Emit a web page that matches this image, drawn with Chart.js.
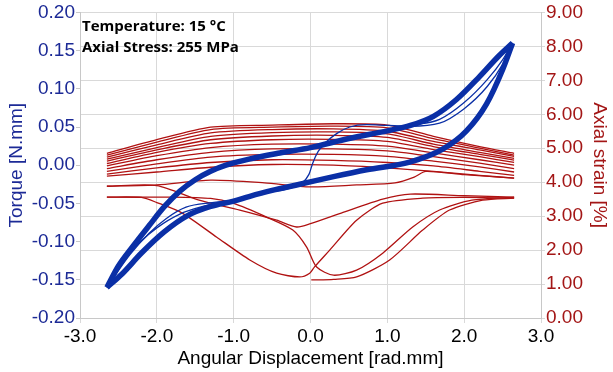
<!DOCTYPE html>
<html>
<head>
<meta charset="utf-8">
<script src="https://cdn.jsdelivr.net/npm/chart.js@4"></script>
<style>
  html, body { margin: 0; padding: 0; background: #fff; }
  #wrap { width: 613px; height: 372px; }
</style>
</head>
<body>
<div id="wrap"><canvas id="torqueChart" width="613" height="372"></canvas></div>
<script>
// axis ranges
const xRange = [-3.0, 3.0]
const torqueRange = [-0.20, 0.20]
const strainRange = [0, 9]

// torque loop, stable cycles (thick band)
const upperX = [-2.65, -2.5, -2.31, -2.1, -1.9, -1.7, -1.5, -1.3, -1.1, -0.8, -0.4, 0.0, 0.5, 1.0, 1.3, 1.6, 1.9, 2.2, 2.45, 2.63]
const upperT = [-0.160, -0.132, -0.106, -0.079, -0.054, -0.034, -0.019, -0.008, 0.000, 0.008, 0.016, 0.023, 0.035, 0.045, 0.052, 0.064, 0.086, 0.116, 0.143, 0.160]
const lowerX = [2.63, 2.5, 2.29, 2.03, 1.72, 1.29, 0.73, 0.3, -0.14, -0.5, -0.8, -1.0, -1.3, -1.6, -1.9, -2.2, -2.45, -2.65]
const lowerT = [0.160, 0.125, 0.080, 0.045, 0.021, 0.004, -0.006, -0.015, -0.025, -0.033, -0.041, -0.047, -0.054, -0.066, -0.087, -0.115, -0.142, -0.160]

// first cycles (thin lines)
const initX = [-0.6, -0.3, -0.12, -0.02, 0.03, 0.1, 0.2, 0.35, 0.51, 0.73, 1.0, 1.3, 1.68, 2.0, 2.3, 2.5, 2.63]
const initT = [-0.036, -0.031, -0.024, -0.012, 0.003, 0.018, 0.030, 0.042, 0.050, 0.053, 0.052, 0.051, 0.055, 0.074, 0.103, 0.132, 0.160]
const posThinX = [1.3, 1.68, 2.0, 2.3, 2.5, 2.63]
const posThinT = [0.052, 0.060, 0.082, 0.112, 0.138, 0.160]
const neg1X = [-0.14, -0.5, -0.8, -1.0, -1.4, -1.7, -2.0, -2.2, -2.45, -2.65]
const neg1T = [-0.025, -0.033, -0.040, -0.046, -0.054, -0.064, -0.082, -0.099, -0.127, -0.160]
const neg2X = [-1.1, -1.28, -1.62, -1.88, -2.1, -2.35, -2.65]
const neg2T = [-0.047, -0.049, -0.055, -0.070, -0.089, -0.117, -0.160]

// axial strain, upper band of cycles
const bandX = [-2.65, -2.0, -1.3, -0.5, 0.3, 1.0, 1.6, 2.2, 2.65]
const bandStrain = [
    [4.85, 5.25, 5.62, 5.68, 5.72, 5.68, 5.35, 5.05, 4.85],
    [4.80, 5.18, 5.55, 5.62, 5.65, 5.60, 5.28, 5.00, 4.80],
    [4.74, 5.10, 5.45, 5.55, 5.57, 5.50, 5.20, 4.95, 4.76],
    [4.68, 5.02, 5.35, 5.46, 5.48, 5.42, 5.12, 4.88, 4.70],
    [4.62, 4.95, 5.25, 5.36, 5.38, 5.32, 5.05, 4.82, 4.65],
    [4.55, 4.88, 5.14, 5.25, 5.26, 5.20, 4.96, 4.75, 4.58],
    [4.48, 4.78, 5.02, 5.12, 5.12, 5.06, 4.86, 4.66, 4.50],
    [4.40, 4.66, 4.88, 4.98, 4.98, 4.92, 4.75, 4.56, 4.40],
    [4.32, 4.54, 4.74, 4.82, 4.82, 4.76, 4.62, 4.45, 4.30],
    [4.24, 4.42, 4.58, 4.66, 4.64, 4.58, 4.48, 4.32, 4.20],
    [4.18, 4.30, 4.44, 4.52, 4.50, 4.42, 4.32, 4.20, 4.12]
]

// axial strain, first cycles (lower curves)
const curveAX = [-2.65, -2.0, -1.45, -0.92, -0.44, -0.18, 0.0, 0.4, 0.94, 1.3, 2.0, 2.65]
const curveAS = [3.88, 3.90, 3.47, 3.18, 2.88, 2.68, 2.78, 3.09, 3.50, 3.65, 3.60, 3.56]
const curveBX = [-2.65, -2.2, -2.0, -1.67, -1.22, -0.79, -0.44, -0.14, -0.01, 0.05, 0.25, 0.6, 0.94, 1.46, 2.0, 2.65]
const curveBS = [3.56, 3.55, 3.40, 3.09, 2.38, 1.71, 1.32, 1.21, 1.32, 1.50, 2.00, 2.88, 3.38, 3.53, 3.55, 3.53]
const curveCX = [-2.65, -1.8, -1.3, -1.01, -0.57, -0.23, -0.05, 0.08, 0.3, 0.6, 0.94, 1.33, 1.68, 2.1, 2.65]
const curveCS = [3.56, 3.56, 3.52, 3.38, 2.97, 2.59, 2.09, 1.50, 1.26, 1.41, 1.91, 2.68, 3.18, 3.47, 3.56]
const curveEX = [0.01, 0.3, 0.6, 1.03, 1.46, 1.81, 2.24, 2.65]
const curveES = [1.12, 1.14, 1.21, 1.71, 2.59, 3.18, 3.47, 3.53]
const curveFX = [-2.65, -2.0, -1.3, -0.6, 0.0, 0.6, 1.1, 1.35, 1.5, 2.0, 2.65]
const curveFS = [3.88, 3.92, 4.06, 3.98, 3.86, 3.92, 3.98, 4.15, 4.32, 4.22, 4.12]

const blue = '#0a2fa6'
const red = '#b01212'
const font = "'Liberation Sans', Arial, sans-serif"

const pts = (xs, ys) => xs.map((x, i) => ({ x: x, y: ys[i] }))

function torqueLine(xs, ys, width) {
    return {
        data: pts(xs, ys), yAxisID: 'y', showLine: true, pointRadius: 0,
        borderColor: blue, borderWidth: width, cubicInterpolationMode: 'monotone', fill: false
    }
}
function strainLine(xs, ys) {
    return {
        data: pts(xs, ys), yAxisID: 'y2', showLine: true, pointRadius: 0,
        borderColor: red, borderWidth: 1.3, tension: 0.25, fill: false
    }
}

const datasets = [
    torqueLine(upperX, upperT, 5.5),
    torqueLine(lowerX, lowerT, 5.5),
    torqueLine(initX, initT, 1.3),
    torqueLine(posThinX, posThinT, 1.3),
    torqueLine(neg1X, neg1T, 1.3),
    torqueLine(neg2X, neg2T, 1.3)
]
bandStrain.forEach(s => datasets.push(strainLine(bandX, s)))
datasets.push(strainLine(curveAX, curveAS))
datasets.push(strainLine(curveBX, curveBS))
datasets.push(strainLine(curveCX, curveCS))
datasets.push(strainLine(curveEX, curveES))
datasets.push(strainLine(curveFX, curveFS))

// test conditions written in the top-left corner
const notes = {
    id: 'notes',
    afterDraw(chart) {
        const ctx = chart.ctx
        ctx.save()
        ctx.fillStyle = '#000'
        ctx.font = "bold 15px 'Open Sans', sans-serif"
        ctx.textBaseline = 'alphabetic'
        ctx.fillText('Temperature: 15 °C', 82, 31)
        ctx.fillText('Axial Stress: 255 MPa', 82, 52)
        ctx.restore()
    }
}

new Chart(document.getElementById('torqueChart').getContext('2d'), {
    type: 'scatter',
    data: { datasets: datasets },
    plugins: [notes],
    options: {
        responsive: false,
        animation: false,
        layout: { padding: { top: 12, left: 0, right: 0, bottom: 0 } },
        plugins: { legend: { display: false }, tooltip: { enabled: false } },
        scales: {
            x: {
                type: 'linear', min: xRange[0], max: xRange[1],
                ticks: { stepSize: 1, color: '#000', font: { family: font, size: 19 }, padding: 2,
                    callback: v => v.toFixed(1) },
                grid: { color: '#d9d9d9', tickLength: 5 },
                border: { color: '#c8c8c8' },
                title: { display: true, text: 'Angular Displacement [rad.mm]', color: '#000',
                    font: { family: font, size: 19 }, padding: { top: 0, bottom: 2 } },
                afterFit: s => { s.height = 54 }
            },
            y: {
                position: 'left', min: torqueRange[0], max: torqueRange[1],
                ticks: { stepSize: 0.05, color: '#1c2a96', font: { family: font, size: 19 }, padding: 1,
                    callback: v => v.toFixed(2) },
                grid: { drawOnChartArea: false, color: '#c8c8c8', tickLength: 4 },
                border: { color: '#c8c8c8' },
                title: { display: true, text: 'Torque [N.mm]', color: '#1c2a96',
                    font: { family: font, size: 19 }, padding: { top: 5, bottom: 2 } },
                afterFit: s => { s.width = 80 }
            },
            y2: {
                position: 'right', min: strainRange[0], max: strainRange[1],
                ticks: { stepSize: 1, color: '#a31616', font: { family: font, size: 19 }, padding: 1,
                    callback: v => v.toFixed(2) },
                grid: { color: '#d9d9d9', tickLength: 4 },
                border: { color: '#c8c8c8' },
                title: { display: true, text: 'Axial strain [%]', color: '#a31616',
                    font: { family: font, size: 19 }, padding: { top: 2, bottom: 0 } },
                afterFit: s => { s.width = 72 }
            }
        }
    }
});
</script>
</body>
</html>
